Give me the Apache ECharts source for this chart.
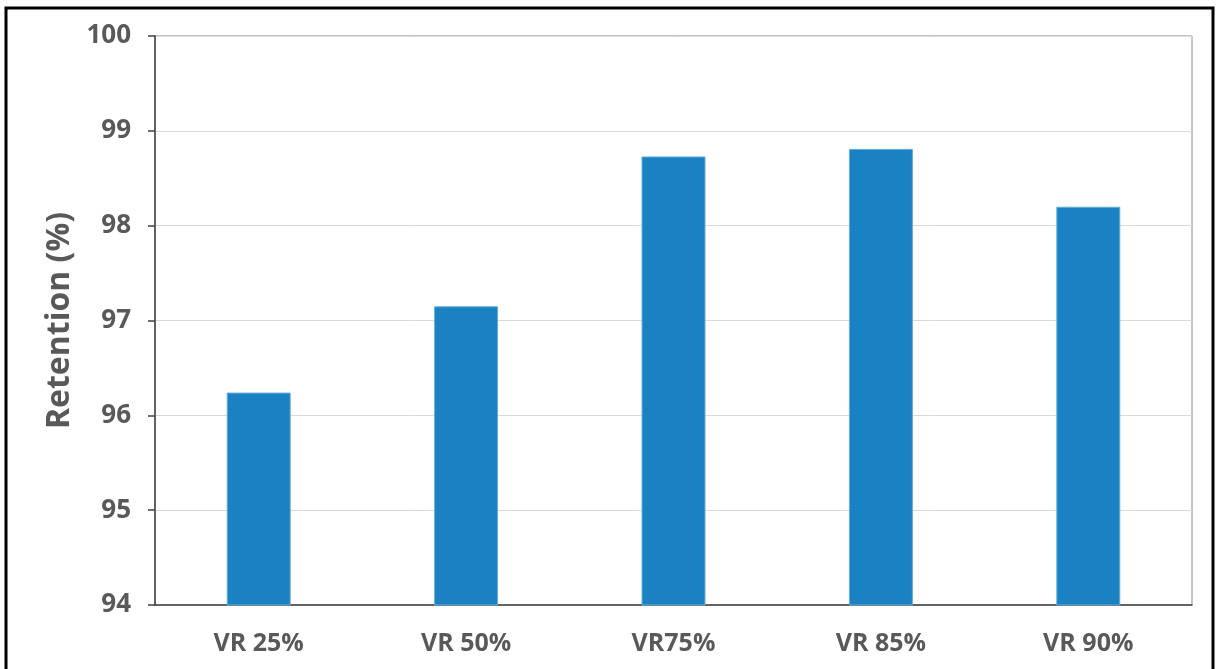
<!DOCTYPE html>
<html>
<head>
<meta charset="utf-8">
<script src="https://cdn.jsdelivr.net/npm/echarts@6/dist/echarts.min.js"></script>
<style>
  html, body { margin: 0; padding: 0; background: #ffffff; }
  #chart { width: 1216px; height: 669px; }
</style>
</head>
<body>
<div id="chart"></div>
<script>
// Retention by VR level
const categories = ['VR 25%', 'VR 50%', 'VR75%', 'VR 85%', 'VR 90%'];
const retention = [96.24, 97.15, 98.73, 98.81, 98.20];
const yMin = 94;
const yMax = 100;
const yStep = 1;

const textColor = '#595959';
const fontFamily = '"Open Sans", "Liberation Sans", sans-serif';

const chart = echarts.init(document.getElementById('chart'), null, { renderer: 'canvas' });

chart.setOption({
  backgroundColor: '#ffffff',
  animation: false,
  graphic: [{
    type: 'rect',
    shape: { x: 6, y: 8, width: 1207, height: 700 },
    style: { fill: 'none', stroke: '#000000', lineWidth: 3 },
    silent: true
  }],
  grid: {
    left: 155,
    right: 24,
    top: 36,
    bottom: 64,
    show: true,
    borderColor: '#8c8c8c',
    borderWidth: 1
  },
  xAxis: {
    type: 'category',
    data: categories,
    axisLine: { show: true, lineStyle: { color: '#404040', width: 1.5 } },
    axisTick: { show: false },
    axisLabel: {
      color: textColor,
      fontSize: 25,
      fontWeight: 'bold',
      fontFamily: fontFamily,
      margin: 26
    },
    splitLine: { show: false }
  },
  yAxis: {
    type: 'value',
    min: yMin,
    max: yMax,
    interval: yStep,
    name: 'Retention (%)',
    nameLocation: 'middle',
    nameGap: 79,
    nameTextStyle: {
      color: textColor,
      fontSize: 32,
      fontWeight: 'bold',
      fontFamily: fontFamily
    },
    axisLine: { show: true, lineStyle: { color: '#404040', width: 1.5 } },
    axisTick: { show: true, inside: false, length: 7, lineStyle: { color: '#404040', width: 1.5 } },
    axisLabel: {
      color: textColor,
      fontSize: 26,
      fontWeight: 'bold',
      fontFamily: fontFamily,
      margin: 24
    },
    splitLine: { show: true, lineStyle: { color: '#d9d9d9', width: 1 } }
  },
  series: [{
    type: 'bar',
    data: retention,
    barWidth: 64,
    itemStyle: {
      color: '#1a81c2',
      borderColor: '#6aaedb',
      borderWidth: 1
    }
  }]
});
</script>
</body>
</html>
